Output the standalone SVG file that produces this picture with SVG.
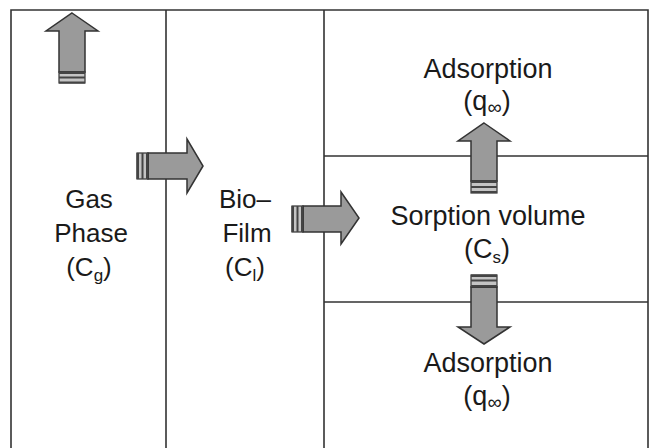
<svg xmlns="http://www.w3.org/2000/svg" width="658" height="448" viewBox="0 0 658 448">
<style>
.ln{stroke:#333;stroke-width:1.6;fill:none}
.ar{fill:#9a9a9a;stroke:#333;stroke-width:1.5;stroke-linejoin:miter}
.st{fill:#c4c4c4;stroke:#333;stroke-width:1.2}
.dk{fill:#444}
text{font-family:"Liberation Sans",Arial,sans-serif;font-size:26px;fill:#1a1a1a;text-anchor:middle}
.r{font-size:27px}
.sub{font-size:17px}
.inf{font-size:20px}
</style>
<rect width="658" height="448" fill="#fff"/>
<g id="frame">
<path class="ln" d="M11,448 V10 H648 V448 M166,10 V448 M324,10 V448 M324,156 H648 M324,302 H648"/>
</g>
<g id="gas-phase">
<text x="89" y="208">Gas</text>
<text x="91" y="242">Phase</text>
<text x="89" y="276">(C<tspan class="sub" dy="5">g</tspan><tspan dy="-5">)</tspan></text>
</g>
<g id="bio-film">
<text x="245" y="208">Bio–</text>
<text x="247" y="242">Film</text>
<text x="245" y="276">(C<tspan class="sub" dy="5">l</tspan><tspan dy="-5">)</tspan></text>
</g>
<g id="adsorption-top">
<text class="r" x="488" y="78">Adsorption</text>
<text class="r" x="487" y="110">(q<tspan class="inf" dy="4">∞</tspan><tspan dy="-4">)</tspan></text>
</g>
<g id="sorption-volume">
<text class="r" x="488" y="225">Sorption volume</text>
<text class="r" x="487" y="258">(C<tspan class="sub" dy="5">s</tspan><tspan dy="-5">)</tspan></text>
</g>
<g id="adsorption-bottom">
<text class="r" x="488" y="372">Adsorption</text>
<text class="r" x="487" y="405">(q<tspan class="inf" dy="4">∞</tspan><tspan dy="-4">)</tspan></text>
</g>
<g id="connectors">
<g id="arrow-gas-out">
<polygon class="ar" points="72,13 98,31 85,31 85,72 59,72 59,31 46,31"/>
<rect class="st" x="59" y="72" width="26" height="11"/>
<rect class="dk" x="59" y="71.5" width="26" height="2.5"/>
<rect class="dk" x="59" y="76.5" width="26" height="2"/>
<rect class="dk" x="59" y="81.5" width="26" height="2"/>
</g>
<g id="arrow-gas-bio">
<polygon class="ar" points="203,166 187,193 187,179 148,179 148,153 187,153 187,139"/>
<rect class="st" x="137" y="153" width="11" height="26"/>
<rect class="dk" x="136.5" y="153" width="2.5" height="26"/>
<rect class="dk" x="141.5" y="153" width="2" height="26"/>
<rect class="dk" x="146" y="153" width="2" height="26"/>
</g>
<g id="arrow-bio-sorption">
<polygon class="ar" points="359,218 341,244 341,232 303,232 303,206 341,206 341,192"/>
<rect class="st" x="292" y="206" width="11" height="26"/>
<rect class="dk" x="291.5" y="206" width="2.5" height="26"/>
<rect class="dk" x="296.5" y="206" width="2" height="26"/>
<rect class="dk" x="301" y="206" width="2" height="26"/>
</g>
<g id="arrow-sorption-up">
<polygon class="ar" points="484,123 510,141 497,141 497,181 471,181 471,141 458,141"/>
<rect class="st" x="471" y="181" width="26" height="12"/>
<rect class="dk" x="471" y="180.5" width="26" height="2.5"/>
<rect class="dk" x="471" y="186" width="26" height="2"/>
<rect class="dk" x="471" y="191" width="26" height="2"/>
</g>
<g id="arrow-sorption-down">
<polygon class="ar" points="484,344 510,327 497,327 497,287 471,287 471,327 458,327"/>
<rect class="st" x="471" y="275" width="26" height="12"/>
<rect class="dk" x="471" y="274.5" width="26" height="2.5"/>
<rect class="dk" x="471" y="279.5" width="26" height="2"/>
<rect class="dk" x="471" y="285" width="26" height="2"/>
</g>
</g>
</svg>
